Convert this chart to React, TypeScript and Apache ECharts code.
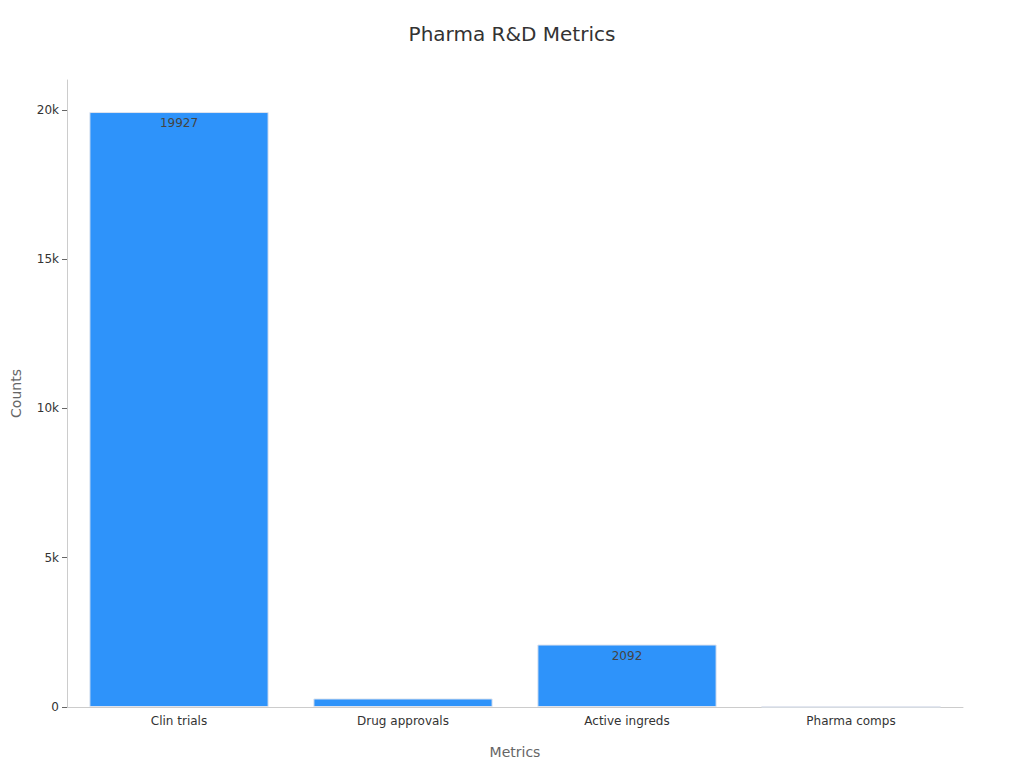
import React, { useEffect, useRef } from 'react';
import * as echarts from 'echarts';

const categories = ['Clin trials', 'Drug approvals', 'Active ingreds', 'Pharma comps'];
const counts = [19927, 285, 2092, 8];

const fmtK = (v: number) => (v === 0 ? '0' : `${v / 1000}k`);

export default function App() {
    const chartRef = useRef<HTMLDivElement>(null);

    useEffect(() => {
        if (!chartRef.current) return;
        const chart = echarts.init(chartRef.current, undefined, { renderer: 'svg' });

        const option: echarts.EChartsOption = {
            animation: false,
            textStyle: { fontFamily: 'DejaVu Sans' },
            title: {
                text: 'Pharma R&D Metrics',
                left: 'center',
                top: 11,
                textStyle: { fontSize: 20, fontWeight: 'normal', color: '#333' },
            },
            grid: { left: 59, right: 53, top: 72, bottom: 53, outerBoundsMode: 'none' } as any,
            xAxis: {
                type: 'category',
                data: categories,
                name: 'Metrics',
                nameLocation: 'middle',
                nameGap: 38,
                nameTextStyle: { fontSize: 14, color: '#666' },
                axisLine: { lineStyle: { color: '#ccc' } },
                axisTick: { alignWithLabel: true, lineStyle: { color: '#999' } },
                axisLabel: { fontSize: 12, color: '#333' },
            },
            yAxis: {
                type: 'value',
                min: 0,
                max: 21000,
                interval: 5000,
                name: 'Counts',
                nameLocation: 'middle',
                nameGap: 44,
                nameTextStyle: { fontSize: 14, color: '#666' },
                axisLine: { show: true, lineStyle: { color: '#ccc' } },
                axisTick: { show: true, lineStyle: { color: '#666' } },
                splitLine: { show: false },
                axisLabel: {
                    fontSize: 12,
                    color: '#333',
                    showMaxLabel: false,
                    formatter: (v: number) => fmtK(v),
                },
            },
            series: [
                {
                    type: 'bar',
                    data: counts,
                    barCategoryGap: '20%',
                    itemStyle: { color: '#2e93fa', borderColor: '#dde3ee', borderWidth: 1 },
                    label: {
                        show: true,
                        position: 'insideTop',
                        color: '#444',
                        fontSize: 12,
                        // labels of bars too short to hold them are left out
                        formatter: (p: any) => (p.value >= 1000 ? String(p.value) : ''),
                    },
                },
            ],
        };

        chart.setOption(option);
        return () => chart.dispose();
    }, []);

    return <div ref={chartRef} style={{ width: 1008, height: 752 }} />;
}
